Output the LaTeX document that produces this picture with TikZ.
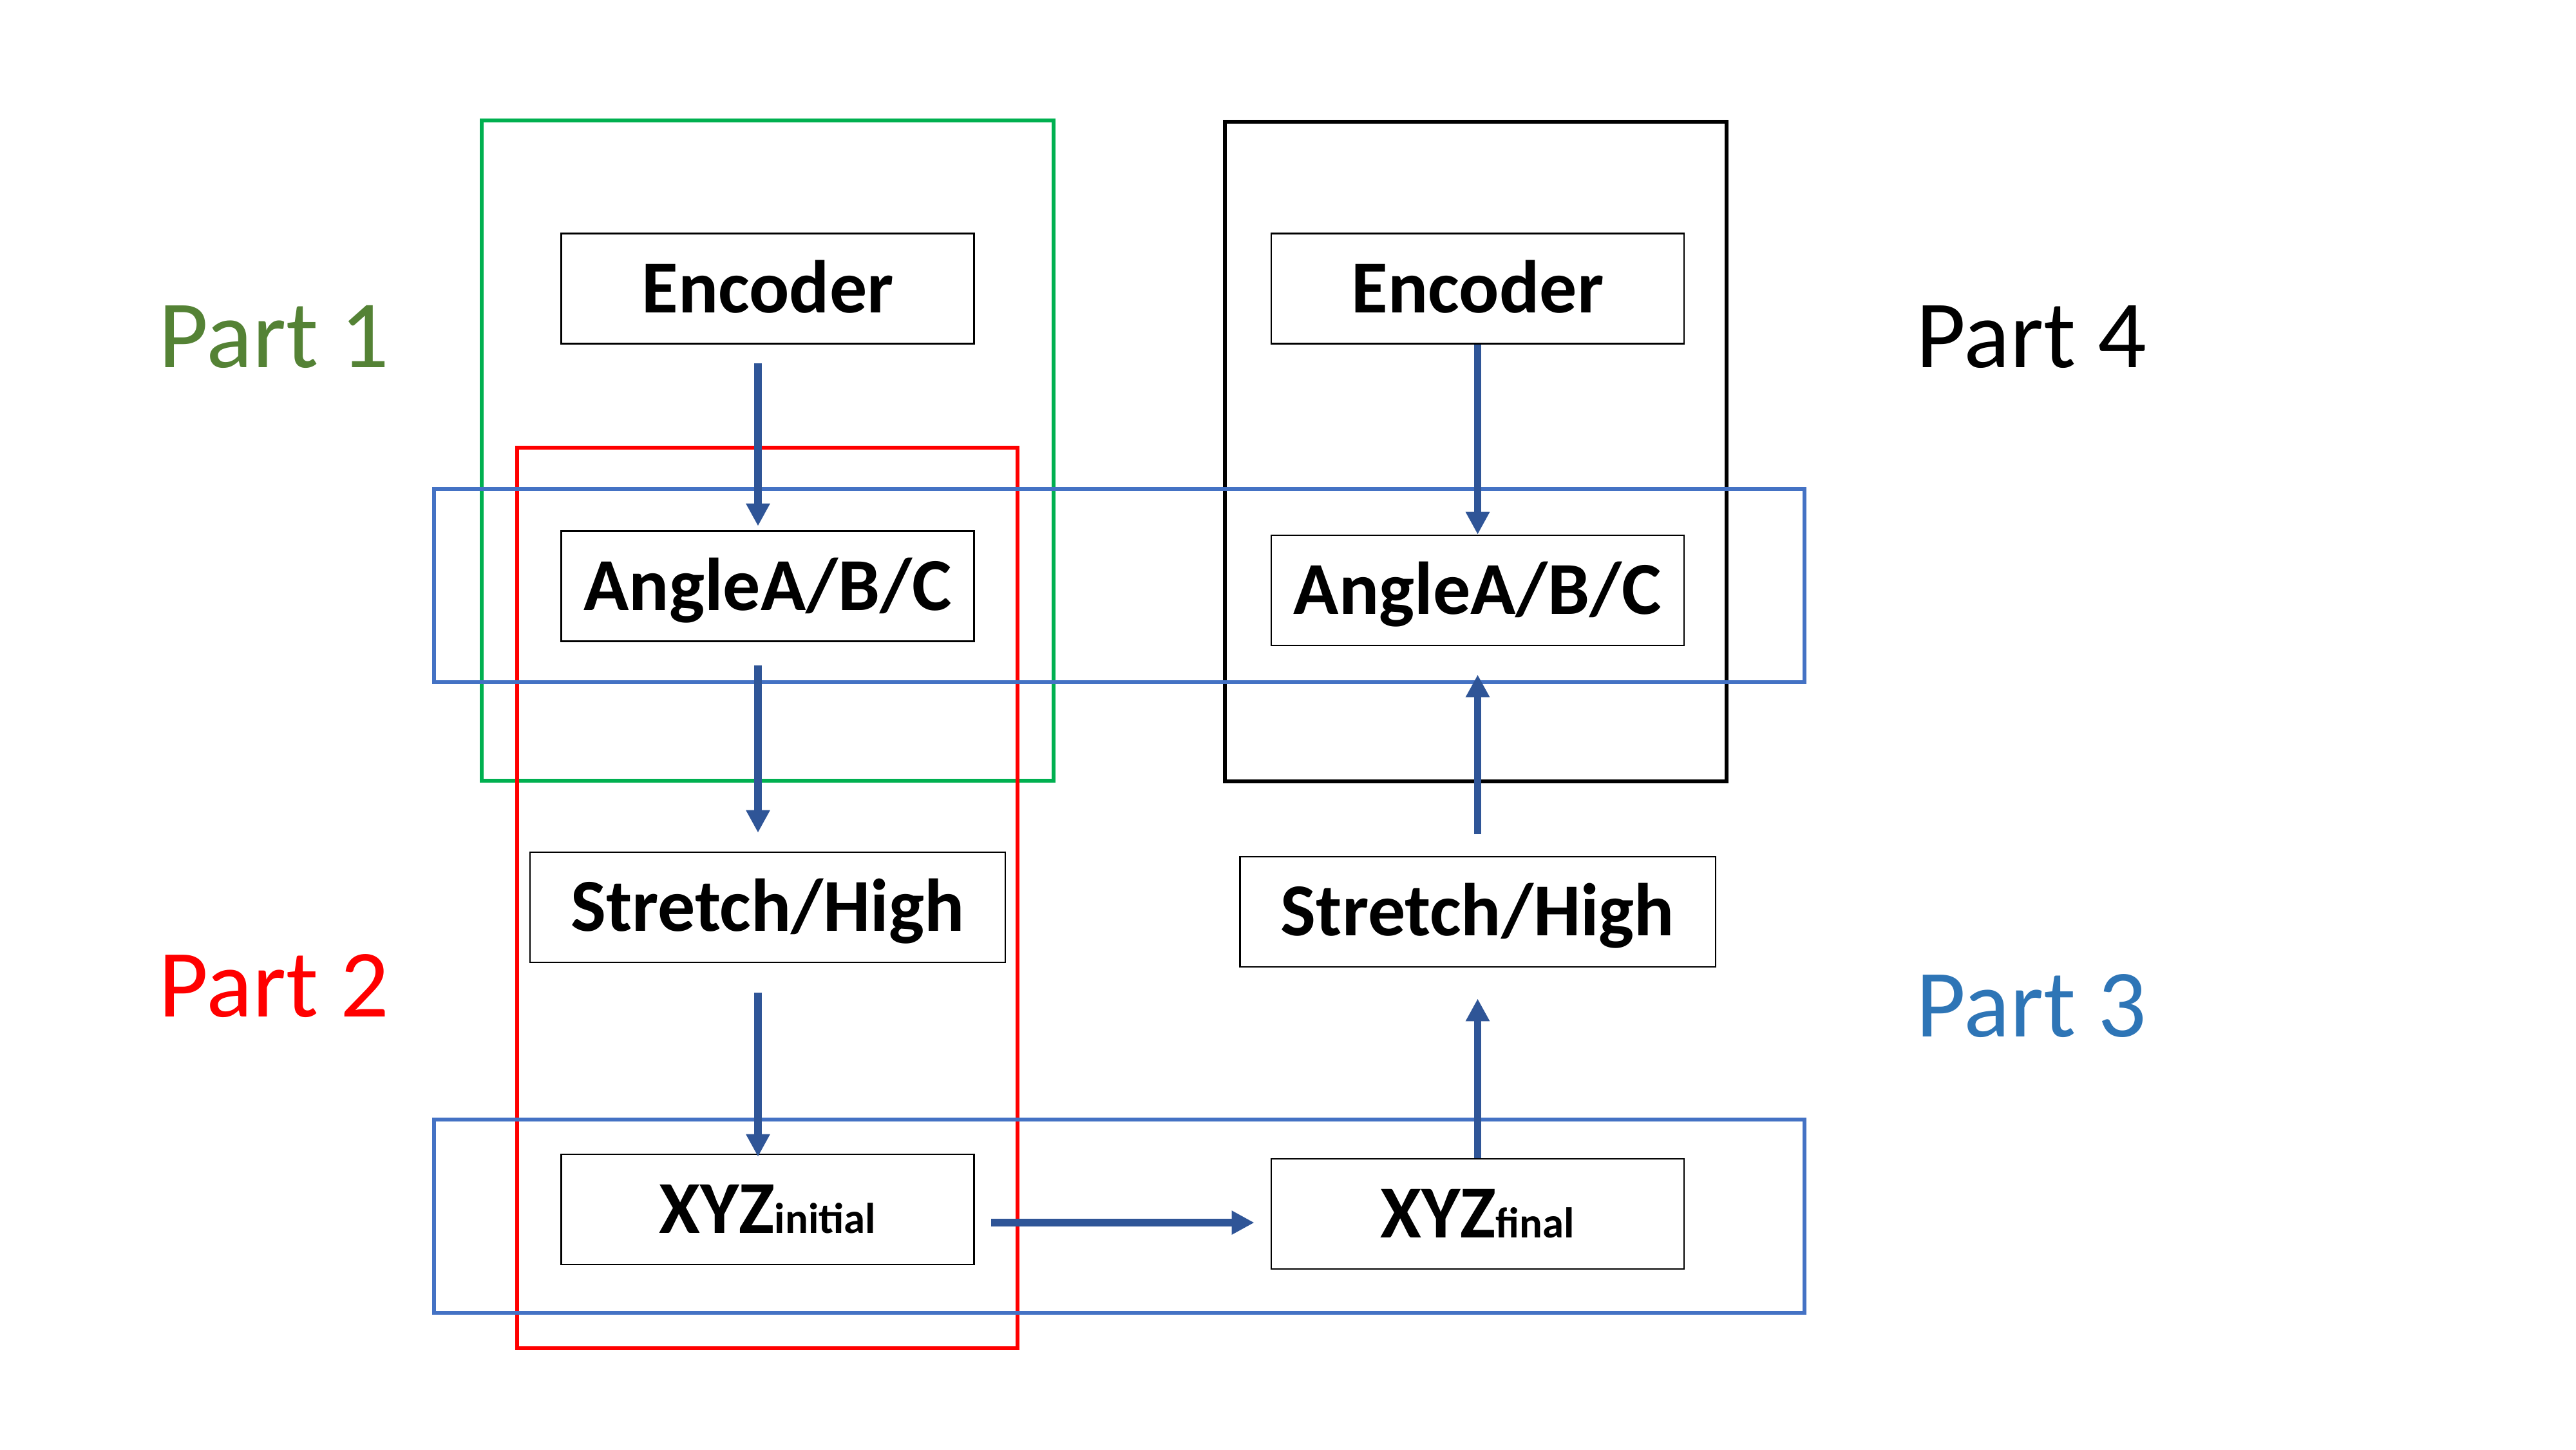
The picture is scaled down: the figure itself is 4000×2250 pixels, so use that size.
\documentclass[tikz,border=0pt]{standalone}
\usepackage{fontspec}
\setmainfont{Carlito}
\usetikzlibrary{arrows.meta}
\definecolor{flowblue}{HTML}{2F5597}
\definecolor{frameblue}{HTML}{4472C4}
\definecolor{framegreen}{HTML}{00B050}
\definecolor{labelgreen}{HTML}{548235}
\definecolor{labelblue}{HTML}{2E75B6}
\begin{document}
\begin{tikzpicture}
    [x=0.01cm,y=-0.01cm,
     block/.style={draw,line width=0.7pt,minimum width=6.41cm,minimum height=1.71cm,
       inner sep=0pt,font=\fontsize{33}{40}\selectfont\bfseries,
       text height=24.75pt,text depth=3.6pt},
     wideblock/.style={block,minimum width=7.38cm},
     frame/.style={line width=1.7pt},
     flow/.style={draw=flowblue,line width=3.2pt,-{Triangle[length=0.35cm,width=0.35cm]}},
     partlabel/.style={anchor=base west,inner sep=0pt,font=\fontsize{42.5}{50}\selectfont}]

    \useasboundingbox (0,0) rectangle (4000,2250);

    % part frames:
    \draw [frame,framegreen] (748,187) rectangle (1636,1212);
    \draw [frame,black] (1902,189) rectangle (2681,1213);
    \draw [frame,red] (803,695) rectangle (1580,2093);
    \draw [frame,frameblue] (674,759) rectangle (2802,1059);
    \draw [frame,frameblue] (674,1738) rectangle (2802,2038);

    % part labels:
    \node (part1) at (246,570) [partlabel,labelgreen] {Part 1};
    \node (part2) at (246,1578) [partlabel,red] {Part 2};
    \node (part3) at (2975,1609) [partlabel,labelblue] {Part 3};
    \node (part4) at (2975,570) [partlabel,black] {Part 4};

    % left column:
    \node (encL) at (1192,448) [block] {Encoder};
    \node (angL) at (1192,910) [block] {AngleA/B/C};
    \node (strL) at (1192,1408.5) [wideblock] {Stretch/High};
    \node (xyzL) at (1192,1877.5) [block] {XYZ{\fontsize{19}{19}\selectfont initial}};

    % right column:
    \node (encR) at (2294.5,448) [block] {Encoder};
    \node (angR) at (2294.5,916.5) [block] {AngleA/B/C};
    \node (strR) at (2294.5,1415.5) [wideblock] {Stretch/High};
    \node (xyzR) at (2294.5,1884.5) [block] {XYZ{\fontsize{19}{19}\selectfont final}};

    % connect nodes:
    \draw [flow,shorten <=0.295cm,shorten >=0.065cm]
      ([xshift=-0.15cm]encL.south) to ([xshift=-0.15cm]angL.north);
    \draw [flow,shorten <=0.365cm,shorten >=0.29cm]
      ([xshift=-0.15cm]angL.south) to ([xshift=-0.15cm]strL.north);
    \draw [flow,shorten <=0.46cm,shorten >=-0.05cm]
      ([xshift=-0.15cm]strL.south) to ([xshift=-0.15cm]xyzL.north);

    \coordinate (hstart) at ([yshift=-0.205cm]xyzL.east);
    \draw [flow,shorten <=0.255cm,shorten >=0.25cm] (hstart) to (hstart -| xyzR.west);

    \draw [flow] (encR.south) to (angR.north);
    \draw [flow,shorten <=0.34cm,shorten >=0.44cm] (strR.north) to (angR.south);
    \draw [flow,shorten >=0.48cm] (xyzR.north) to (strR.south);

  \end{tikzpicture}
\end{document}
